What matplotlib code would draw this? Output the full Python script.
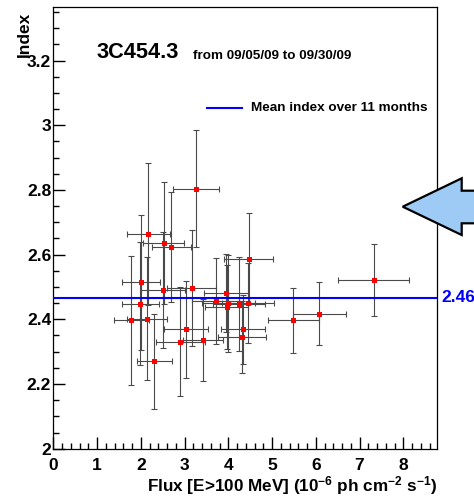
import matplotlib
matplotlib.use("Agg")
import matplotlib.pyplot as plt
from matplotlib.lines import Line2D
from matplotlib.patches import Polygon
from matplotlib.ticker import MultipleLocator, FuncFormatter

plt.rcParams["font.family"] = ["Liberation Sans", "DejaVu Sans"]
plt.rcParams["font.weight"] = "bold"
plt.rcParams["mathtext.fontset"] = "custom"
plt.rcParams["mathtext.rm"] = "Liberation Sans:bold"
plt.rcParams["mathtext.default"] = "rm"

# Daily flux / photon index measurements, 3C454.3, Sept 2009
flux = [3.26, 2.17, 2.52, 2.70, 2.00, 2.50, 3.16, 1.99, 1.78, 2.15,
        3.03, 2.90, 3.43, 2.31, 4.32, 4.34, 4.47, 3.94, 3.71, 4.00,
        3.96, 4.25, 4.45, 5.49, 6.08, 7.32]
flux_err = [0.53, 0.49, 0.46, 0.45, 0.44, 0.50, 0.56, 0.43, 0.40, 0.46,
            0.51, 0.56, 0.46, 0.40, 0.545, 0.50, 0.56, 0.50, 0.53, 0.60,
            0.50, 0.60, 0.59, 0.59, 0.61, 0.82]
index = [2.804, 2.663, 2.636, 2.624, 2.514, 2.490, 2.496, 2.448, 2.397, 2.402,
         2.369, 2.331, 2.336, 2.270, 2.345, 2.369, 2.588, 2.481, 2.456, 2.449,
         2.438, 2.448, 2.451, 2.397, 2.418, 2.522]
index_err = [0.18, 0.22, 0.19, 0.17, 0.21, 0.18, 0.18, 0.19, 0.20, 0.19,
             0.15, 0.168, 0.126, 0.146, 0.112, 0.107, 0.14, 0.12, 0.133, 0.15,
             0.13, 0.146, 0.123, 0.10, 0.096, 0.112]
mean_index = 2.466

W, H = 474, 499
fig = plt.figure(figsize=(W / 100, H / 100), dpi=100)
ax = fig.add_axes([53.3 / W, 1 - 448.7 / H, (437 - 53.3) / W, (448.7 - 7.2) / H])

ax.errorbar(flux, index, xerr=flux_err, yerr=index_err, fmt="none",
            ecolor="#4a4a4a", elinewidth=0.8, capsize=2.2, capthick=0.8, zorder=2)
ax.plot(flux, index, "s", color="#ff0000", ms=3.6, mew=0, zorder=3)
ax.axhline(mean_index, color="#0000ff", lw=1.5, zorder=4)

ax.set_xlim(0, 8.77)
ax.set_ylim(2.0, 3.365)
ax.xaxis.set_major_locator(MultipleLocator(1))
ax.xaxis.set_minor_locator(MultipleLocator(0.2))
ax.yaxis.set_major_locator(MultipleLocator(0.2))
ax.yaxis.set_minor_locator(MultipleLocator(0.05))
fmt = FuncFormatter(lambda v, pos: f"{round(v, 3):g}")
ax.xaxis.set_major_formatter(fmt)
ax.yaxis.set_major_formatter(fmt)
ax.tick_params(which="both", direction="in", top=False, right=False,
               width=1.0, color="black", labelsize=12.5)
ax.tick_params(which="major", length=8.5)
ax.tick_params(which="minor", length=4.5)
ax.tick_params(axis="x", pad=6.5)
ax.tick_params(axis="y", pad=1.5)
for s in ax.spines.values():
    s.set_linewidth(0.9)

def fx(px):
    return px / W

def fy(py):
    return 1 - py / H

fig.text(fx(24), fy(12), "Index", rotation=90, ha="center", va="top",
         fontsize=12.5, fontweight="bold")
fig.text(fx(437), fy(486), "Flux [E>100 MeV] (10$^{-6}$ ph cm$^{-2}$ s$^{-1}$)",
         ha="right", va="center", fontsize=12.3, fontweight="bold")

fig.text(fx(97), fy(53), "3C454.3", ha="left", va="center",
         fontsize=15.7, fontweight="bold")
fig.text(fx(193), fy(56), "from 09/05/09 to 09/30/09", ha="left", va="center",
         fontsize=9.7, fontweight="bold")

fig.add_artist(Line2D([fx(206.7), fx(241.7)], [fy(108.3), fy(108.3)],
                      color="#0000ff", lw=1.5))
fig.text(fx(251), fy(108.3), "Mean index over 11 months", ha="left",
         va="center", fontsize=9.7, fontweight="bold")

ax.annotate(f"{mean_index:.3f}", xy=(1.0, mean_index),
            xycoords=ax.get_yaxis_transform(), xytext=(3, 0),
            textcoords="offset points", ha="left", va="center",
            color="#0000ff", fontsize=12.5, fontweight="bold",
            annotation_clip=False)

arrow_px = [(402.7, 206.7), (461.7, 178.3), (461.7, 190.7), (480, 190.7),
            (480, 223.3), (461.7, 223.3), (461.7, 235)]
fig.add_artist(Polygon([(fx(x), fy(y)) for x, y in arrow_px], closed=True,
                       transform=fig.transFigure, facecolor="#9ecbf5",
                       edgecolor="black", lw=1.6, joinstyle="miter", zorder=5))

fig.savefig("out.png", dpi=100)
